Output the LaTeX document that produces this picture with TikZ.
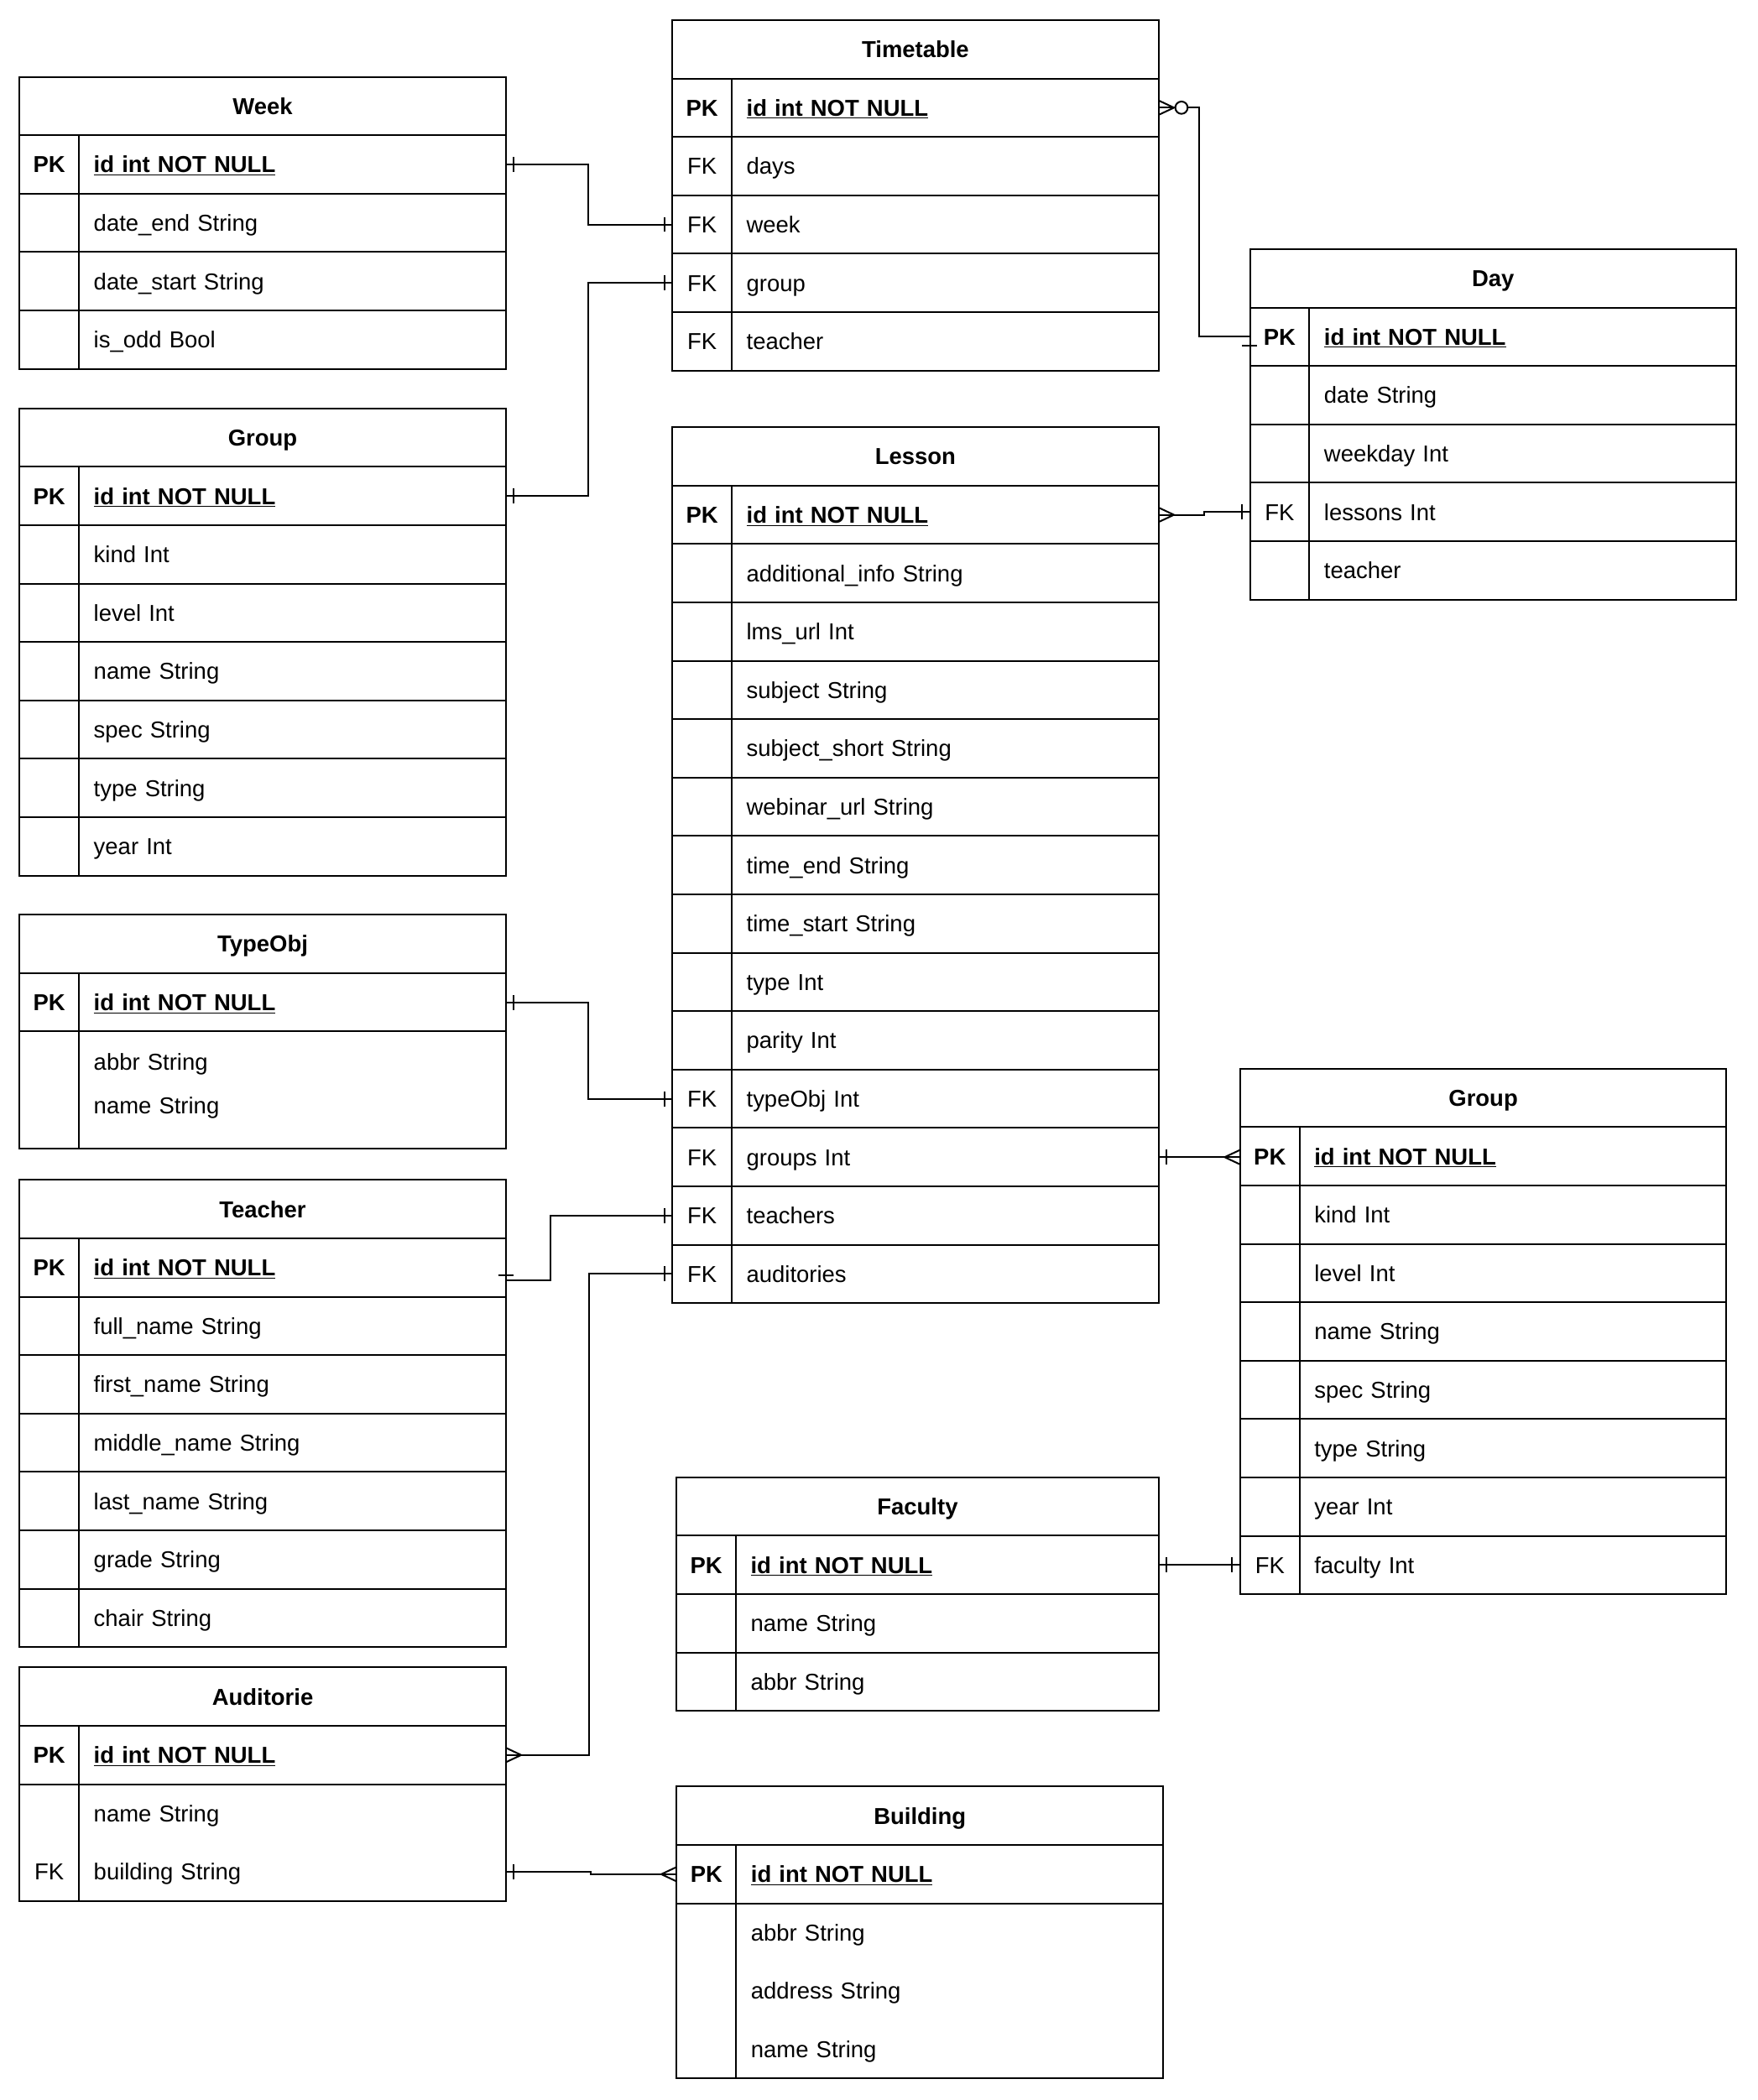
\documentclass[tikz,border=0pt]{standalone}
\usepackage{fontspec}
\setmainfont{Liberation Sans}
\usepackage{tikz}
\usetikzlibrary{positioning, decorations.markings}

\newcommand{\erfont}{\fontsize{17.2}{20.6}\selectfont}

\begin{document}
\begin{tikzpicture}[
        x=1pt, y=-1pt,
        tline/.style={line width=1.25pt},
        tcell/.style={tline, draw, outer sep=0pt, inner xsep=0pt, minimum height=43.6pt, text width=363pt, text height=15.4pt, text depth=3pt, font=\erfont},
        hdr/.style={tcell, anchor=north west, align=center, font=\erfont\bfseries},
        fld/.style={tcell, align=left, execute at begin node={\hspace*{55.4pt}}},
        pkfld/.style={fld, font=\erfont\bfseries},
        barefld/.style={fld, draw=none},
        keytxt/.style={inner sep=0pt, text height=15.4pt, text depth=3pt, font=\erfont},
        pktxt/.style={keytxt, font=\erfont\bfseries},
        conn/.style={tline},
        one start/.style={postaction={decorate, decoration={markings, mark=at position 6pt with {\draw[tline] (0pt,-5.6pt) -- (0pt,5.6pt);}}}},
        one end/.style={postaction={decorate, decoration={markings, mark=at position -6pt with {\draw[tline] (0pt,-5.6pt) -- (0pt,5.6pt);}}}},
        many start/.style={postaction={decorate, decoration={markings, mark=at position 0pt with {\draw[tline] (0pt,-5.4pt) -- (11.5pt,0pt) -- (0pt,5.4pt);}}}},
        many end/.style={postaction={decorate, decoration={markings, mark=at position -0.05pt with {\draw[tline] (0pt,-5.4pt) -- (-11.5pt,0pt) -- (0pt,5.4pt);}}}},
        zmany start/.style={postaction={decorate, decoration={markings, mark=at position 0pt with {\draw[tline] (0pt,-5.4pt) -- (11.5pt,0pt) -- (0pt,5.4pt); \draw[tline, fill=white] (17.1pt,0pt) circle (4.6pt);}}}}
    ]
        \useasboundingbox (0,0) rectangle (1312.4,1568);

        % Week
        \node[hdr] (wk) at (14.6,57.4) {Week};
        \node[pkfld, below=0pt of wk] (wk-id) {\underline{id int NOT NULL}};
        \node[fld, below=0pt of wk-id] (wk-end) {date\_end String};
        \node[fld, below=0pt of wk-end] (wk-start) {date\_start String};
        \node[fld, below=0pt of wk-start] (wk-odd) {is\_odd Bool};
        \draw[tline] ([xshift=44.4pt]wk.south west) -- ([xshift=44.4pt]wk-odd.south west);
        \node[pktxt] at ([xshift=22.2pt]wk-id.west) {PK};

        % Group (left)
        \node[hdr] (gl) at (14.6,305) {Group};
        \node[pkfld, below=0pt of gl] (gl-id) {\underline{id int NOT NULL}};
        \node[fld, below=0pt of gl-id] (gl-kind) {kind Int};
        \node[fld, below=0pt of gl-kind] (gl-level) {level Int};
        \node[fld, below=0pt of gl-level] (gl-name) {name String};
        \node[fld, below=0pt of gl-name] (gl-spec) {spec String};
        \node[fld, below=0pt of gl-spec] (gl-type) {type String};
        \node[fld, below=0pt of gl-type] (gl-year) {year Int};
        \draw[tline] ([xshift=44.4pt]gl.south west) -- ([xshift=44.4pt]gl-year.south west);
        \node[pktxt] at ([xshift=22.2pt]gl-id.west) {PK};

        % TypeObj
        \node[hdr] (to) at (14.6,683) {TypeObj};
        \node[pkfld, below=0pt of to] (to-id) {\underline{id int NOT NULL}};
        \node[barefld, minimum height=33pt, below=6pt of to-id] (to-abbr) {abbr String};
        \node[barefld, minimum height=33pt, below=0pt of to-abbr] (to-name) {name String};
        \coordinate (to-bot) at ([yshift=-87.2pt]to-id.south west);
        \draw[tline] (to-id.south west) rectangle (to-bot -| to-id.east);
        \draw[tline] ([xshift=44.4pt]to.south west) -- ([xshift=44.4pt]to-bot);
        \node[pktxt] at ([xshift=22.2pt]to-id.west) {PK};

        % Teacher
        \node[hdr] (te) at (14.6,881) {Teacher};
        \node[pkfld, below=0pt of te] (te-id) {\underline{id int NOT NULL}};
        \node[fld, below=0pt of te-id] (te-full) {full\_name String};
        \node[fld, below=0pt of te-full] (te-first) {first\_name String};
        \node[fld, below=0pt of te-first] (te-middle) {middle\_name String};
        \node[fld, below=0pt of te-middle] (te-last) {last\_name String};
        \node[fld, below=0pt of te-last] (te-grade) {grade String};
        \node[fld, below=0pt of te-grade] (te-chair) {chair String};
        \draw[tline] ([xshift=44.4pt]te.south west) -- ([xshift=44.4pt]te-chair.south west);
        \node[pktxt] at ([xshift=22.2pt]te-id.west) {PK};

        % Auditorie
        \node[hdr] (au) at (14.6,1245) {Auditorie};
        \node[pkfld, below=0pt of au] (au-id) {\underline{id int NOT NULL}};
        \node[barefld, below=0pt of au-id] (au-name) {name String};
        \node[barefld, below=0pt of au-name] (au-bld) {building String};
        \draw[tline] (au-name.north west) rectangle (au-bld.south east);
        \draw[tline] ([xshift=44.4pt]au.south west) -- ([xshift=44.4pt]au-bld.south west);
        \node[pktxt] at ([xshift=22.2pt]au-id.west) {PK};
        \node[keytxt] at ([xshift=22.2pt]au-bld.west) {FK};

        % Timetable
        \node[hdr] (tt) at (501.9,15) {Timetable};
        \node[pkfld, below=0pt of tt] (tt-id) {\underline{id int NOT NULL}};
        \node[fld, below=0pt of tt-id] (tt-days) {days};
        \node[fld, below=0pt of tt-days] (tt-week) {week};
        \node[fld, below=0pt of tt-week] (tt-group) {group};
        \node[fld, below=0pt of tt-group] (tt-teacher) {teacher};
        \draw[tline] ([xshift=44.4pt]tt.south west) -- ([xshift=44.4pt]tt-teacher.south west);
        \node[pktxt] at ([xshift=22.2pt]tt-id.west) {PK};
        \node[keytxt] at ([xshift=22.2pt]tt-days.west) {FK};
        \node[keytxt] at ([xshift=22.2pt]tt-week.west) {FK};
        \node[keytxt] at ([xshift=22.2pt]tt-group.west) {FK};
        \node[keytxt] at ([xshift=22.2pt]tt-teacher.west) {FK};

        % Lesson
        \node[hdr] (le) at (501.9,319) {Lesson};
        \node[pkfld, below=0pt of le] (le-id) {\underline{id int NOT NULL}};
        \node[fld, below=0pt of le-id] (le-info) {additional\_info String};
        \node[fld, below=0pt of le-info] (le-lms) {lms\_url Int};
        \node[fld, below=0pt of le-lms] (le-subj) {subject String};
        \node[fld, below=0pt of le-subj] (le-short) {subject\_short String};
        \node[fld, below=0pt of le-short] (le-web) {webinar\_url String};
        \node[fld, below=0pt of le-web] (le-tend) {time\_end String};
        \node[fld, below=0pt of le-tend] (le-tstart) {time\_start String};
        \node[fld, below=0pt of le-tstart] (le-type) {type Int};
        \node[fld, below=0pt of le-type] (le-parity) {parity Int};
        \node[fld, below=0pt of le-parity] (le-typeobj) {typeObj Int};
        \node[fld, below=0pt of le-typeobj] (le-groups) {groups Int};
        \node[fld, below=0pt of le-groups] (le-teachers) {teachers};
        \node[fld, below=0pt of le-teachers] (le-aud) {auditories};
        \draw[tline] ([xshift=44.4pt]le.south west) -- ([xshift=44.4pt]le-aud.south west);
        \node[pktxt] at ([xshift=22.2pt]le-id.west) {PK};
        \node[keytxt] at ([xshift=22.2pt]le-typeobj.west) {FK};
        \node[keytxt] at ([xshift=22.2pt]le-groups.west) {FK};
        \node[keytxt] at ([xshift=22.2pt]le-teachers.west) {FK};
        \node[keytxt] at ([xshift=22.2pt]le-aud.west) {FK};

        % Day
        \node[hdr] (dy) at (933.1,186) {Day};
        \node[pkfld, below=0pt of dy] (dy-id) {\underline{id int NOT NULL}};
        \node[fld, below=0pt of dy-id] (dy-date) {date String};
        \node[fld, below=0pt of dy-date] (dy-weekday) {weekday Int};
        \node[fld, below=0pt of dy-weekday] (dy-lessons) {lessons Int};
        \node[fld, below=0pt of dy-lessons] (dy-teacher) {teacher};
        \draw[tline] ([xshift=44.4pt]dy.south west) -- ([xshift=44.4pt]dy-teacher.south west);
        \node[pktxt] at ([xshift=22.2pt]dy-id.west) {PK};
        \node[keytxt] at ([xshift=22.2pt]dy-lessons.west) {FK};

        % Group (right)
        \node[hdr] (gr) at (925.8,798) {Group};
        \node[pkfld, below=0pt of gr] (gr-id) {\underline{id int NOT NULL}};
        \node[fld, below=0pt of gr-id] (gr-kind) {kind Int};
        \node[fld, below=0pt of gr-kind] (gr-level) {level Int};
        \node[fld, below=0pt of gr-level] (gr-name) {name String};
        \node[fld, below=0pt of gr-name] (gr-spec) {spec String};
        \node[fld, below=0pt of gr-spec] (gr-type) {type String};
        \node[fld, below=0pt of gr-type] (gr-year) {year Int};
        \node[fld, below=0pt of gr-year] (gr-faculty) {faculty Int};
        \draw[tline] ([xshift=44.4pt]gr.south west) -- ([xshift=44.4pt]gr-faculty.south west);
        \node[pktxt] at ([xshift=22.2pt]gr-id.west) {PK};
        \node[keytxt] at ([xshift=22.2pt]gr-faculty.west) {FK};

        % Faculty
        \begin{scope}[hdr/.append style={text width=360pt}, fld/.append style={text width=360pt}]
        \node[hdr] (fa) at (505,1103) {Faculty};
        \node[pkfld, below=0pt of fa] (fa-id) {\underline{id int NOT NULL}};
        \node[fld, below=0pt of fa-id] (fa-name) {name String};
        \node[fld, below=0pt of fa-name] (fa-abbr) {abbr String};
        \end{scope}
        \draw[tline] ([xshift=44.4pt]fa.south west) -- ([xshift=44.4pt]fa-abbr.south west);
        \node[pktxt] at ([xshift=22.2pt]fa-id.west) {PK};

        % Building
        \node[hdr] (bu) at (505.2,1334) {Building};
        \node[pkfld, below=0pt of bu] (bu-id) {\underline{id int NOT NULL}};
        \node[barefld, below=0pt of bu-id] (bu-abbr) {abbr String};
        \node[barefld, below=0pt of bu-abbr] (bu-addr) {address String};
        \node[barefld, below=0pt of bu-addr] (bu-name) {name String};
        \draw[tline] (bu-abbr.north west) rectangle (bu-name.south east);
        \draw[tline] ([xshift=44.4pt]bu.south west) -- ([xshift=44.4pt]bu-name.south west);
        \node[pktxt] at ([xshift=22.2pt]bu-id.west) {PK};

        % relations
        \draw[conn, one start, one end] (wk-id.east) -- ++(61.7,0) |- (tt-week.west);
        \draw[conn, one start, one end] (gl-id.east) -- ++(61.7,0) |- (tt-group.west);
        \draw[conn, zmany start] (tt-id.east) -- ++(30.2,0) |- (dy-id.west);
        \draw[conn] ([xshift=-5.8pt,yshift=-6.4pt]dy-id.west) -- ++(11.4,0);
        \draw[conn, many start, one end] (le-id.east) -- ++(34,0) |- (dy-lessons.west);
        \draw[conn, one start, one end] (to-id.east) -- ++(61.7,0) |- (le-typeobj.west);
        \draw[conn, one start, many end] (le-groups.east) -- (le-groups.east -| gr-id.west);
        \draw[conn, one end] ([yshift=-9.7pt]te-id.east) -- ++(33.1,0) |- (le-teachers.west);
        \draw[conn] ([xshift=-5.7pt,yshift=-5.5pt]te-id.east) -- ++(11.3,0);
        \draw[conn, many start, one end] (au-id.east) -- ++(62,0) |- (le-aud.west);
        \draw[conn, one start, one end] (fa-id.east) -- (fa-id.east -| gr-faculty.west);
        \draw[conn, one start, many end] (au-bld.east) -- ++(63.2,0) |- (bu-id.west);
    \end{tikzpicture}
\end{document}
